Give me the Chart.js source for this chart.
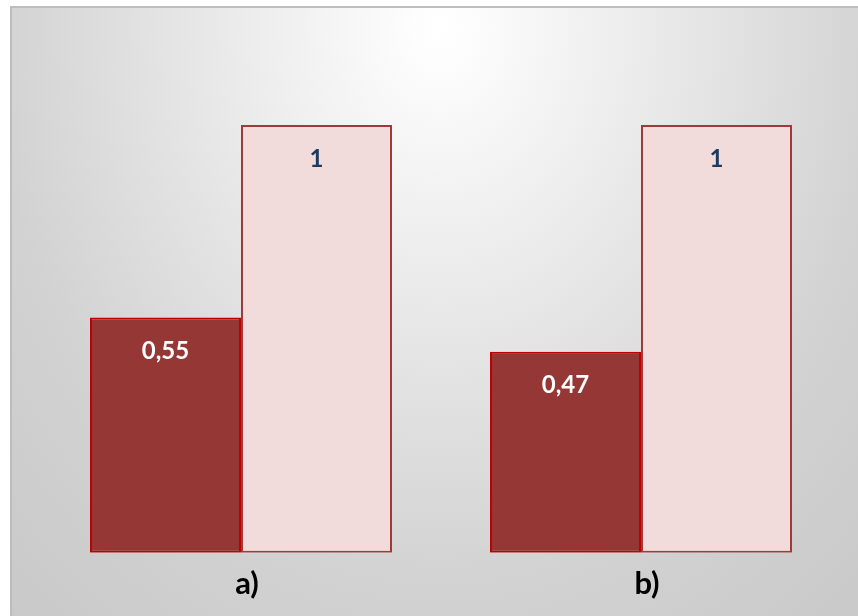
<!DOCTYPE html>
<html>
<head>
<meta charset="utf-8">
<style>
  html, body { margin: 0; padding: 0; background: #ffffff; }
  #wrap { width: 858px; height: 616px; position: relative; }
</style>
<script src="https://cdn.jsdelivr.net/npm/chart.js@4/dist/chart.umd.min.js"></script>
</head>
<body>
<div id="wrap"><canvas id="c" width="858" height="616"></canvas></div>
<script>
// Categories and series values
const categories = ['a)', 'b)'];
const seriesMeasured = [0.55, 0.47];
const seriesReference = [1, 1];

// Formats a value with a decimal comma
function fmt(v) {
  return String(v).replace('.', ',');
}

// Soft gray panel with a light spot near the top centre
const panelBackground = {
  id: 'panelBackground',
  beforeDraw(chart) {
    const ctx = chart.ctx;
    const x0 = 10, y0 = 6, x1 = chart.width, y1 = chart.height;
    ctx.save();
    ctx.fillStyle = '#ffffff';
    ctx.fillRect(0, 0, chart.width, chart.height);
    ctx.beginPath();
    ctx.rect(x0, y0, x1 - x0, y1 - y0);
    ctx.clip();
    const cx = 440, cy = 25, sy = 1.25;
    ctx.translate(cx, cy);
    ctx.scale(1, sy);
    const g = ctx.createRadialGradient(0, 0, 0, 0, 0, 700);
    g.addColorStop(0, '#ffffff');
    g.addColorStop(0.04, '#fdfdfd');
    g.addColorStop(0.64, '#d2d2d2');
    g.addColorStop(1, '#c6c6c6');
    ctx.fillStyle = g;
    ctx.fillRect(x0 - cx, (y0 - cy) / sy, x1 - x0, (y1 - y0) / sy + 2);
    ctx.restore();
    ctx.save();
    ctx.strokeStyle = '#bdbdbd';
    ctx.lineWidth = 2;
    ctx.beginPath();
    ctx.moveTo(x0 + 1, y1);
    ctx.lineTo(x0 + 1, y0 + 1);
    ctx.lineTo(x1, y0 + 1);
    ctx.stroke();
    ctx.restore();
  }
};

// Value labels placed inside each bar, below its top edge
const valueLabels = {
  id: 'valueLabels',
  afterDatasetsDraw(chart) {
    const ctx = chart.ctx;
    ctx.save();
    ctx.font = 'bold 24px Lato';
    ctx.textAlign = 'center';
    ctx.textBaseline = 'middle';
    chart.data.datasets.forEach((ds, i) => {
      const meta = chart.getDatasetMeta(i);
      meta.data.forEach((bar, j) => {
        ctx.fillStyle = ds.labelColor;
        ctx.fillText(fmt(ds.data[j]), bar.x, bar.y + 34);
      });
    });
    ctx.restore();
  }
};

new Chart(document.getElementById('c'), {
  type: 'bar',
  data: {
    labels: categories,
    datasets: [
      {
        data: seriesMeasured,
        backgroundColor: '#953735',
        borderColor: '#c00000',
        borderWidth: 2,
        borderSkipped: false,
        labelColor: '#ffffff'
      },
      {
        data: seriesReference,
        backgroundColor: '#f2dcdb',
        borderColor: '#a0393a',
        borderWidth: 2,
        borderSkipped: false,
        labelColor: '#1f3a60'
      }
    ]
  },
  options: {
    responsive: false,
    animation: false,
    devicePixelRatio: 1,
    layout: { padding: { left: 41, right: 17, top: 125, bottom: 0 } },
    plugins: { legend: { display: false }, tooltip: { enabled: false } },
    datasets: { bar: { categoryPercentage: 0.755, barPercentage: 1 } },
    scales: {
      x: {
        grid: { display: false, drawTicks: false },
        border: { display: false },
        ticks: { color: '#000000', font: { family: 'Lato', weight: 'bold', size: 31 }, padding: 13, labelOffset: 6 }
      },
      y: {
        display: false,
        min: 0,
        max: 1
      }
    }
  },
  plugins: [panelBackground, valueLabels]
});
</script>
</body>
</html>
